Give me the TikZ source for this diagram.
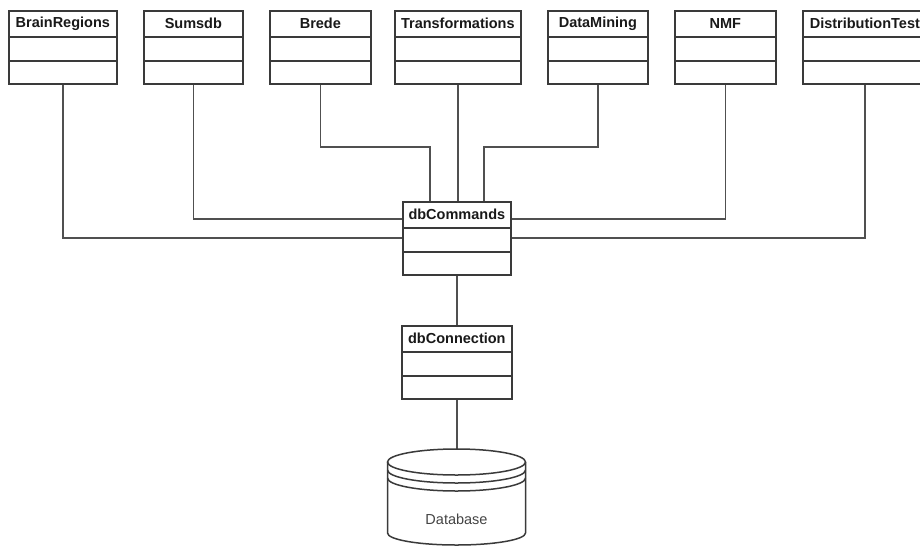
\documentclass[tikz,border=0pt]{standalone}
\usepackage{fontspec}
\setmainfont{Liberation Sans}
\usetikzlibrary{calc}
\definecolor{boxline}{HTML}{3A3A3A}
\definecolor{conn}{HTML}{505050}
\definecolor{dbtext}{HTML}{444444}
\tikzset{
  clsbox/.style={draw=boxline, line width=1.7pt, fill=white, minimum height=73pt, inner sep=0pt, anchor=north west, rectangle},
  hdr/.style={font=\fontsize{14.5}{17}\selectfont\bfseries, text=black!90, inner sep=0pt, anchor=center},
  sep/.style={draw=boxline, line width=1.7pt},
  wire/.style={draw=conn, line width=1.6pt},
  cyl/.style={draw=boxline, line width=1.5pt},
}
\newcommand{\umlclass}[5]{% name, x, y, width, title
  \node[clsbox, minimum width=#4pt] (#1) at (#2pt,-#3pt) {};
  \node[hdr] (#1-title) at ($(#1.north)+(0,-13.5pt)$) {#5};
  \draw[sep] ($(#1.north west)+(0,-27pt)$) -- ($(#1.north east)+(0,-27pt)$);
  \draw[sep] ($(#1.north west)+(0,-51pt)$) -- ($(#1.north east)+(0,-51pt)$);
}
\begin{document}
\begin{tikzpicture}[x=1pt,y=1pt]
\useasboundingbox (0,0) rectangle (920,-546);
\umlclass{br}{8}{10}{108}{BrainRegions}
\umlclass{su}{143}{10}{99}{Sumsdb}
\umlclass{bd}{269}{10}{101}{Brede}
\umlclass{tr}{394}{10}{126}{Transformations}
\umlclass{dm}{547}{10}{100}{DataMining}
\umlclass{nm}{674}{10}{101}{NMF}
\umlclass{dt}{802}{10}{124}{DistributionTest}
\umlclass{dbc}{402}{201}{108}{dbCommands}
\umlclass{dbn}{401}{325}{110}{dbConnection}

% wires
\draw[wire] (bd.south) -- ++(0,-62) -| ($(dbc.north)+(-27,0)$);
\draw[wire] (dm.south) -- ++(0,-62) -| ($(dbc.north)+(27,0)$);
\draw[wire] (tr.south) -- (tr.south |- dbc.north);
\draw[wire] (su.south) |- ($(dbc.north west)+(0,-18)$);
\draw[wire] (nm.south) |- ($(dbc.north east)+(0,-18)$);
\draw[wire] (br.south) |- ($(dbc.north west)+(0,-37)$);
\draw[wire] (dt.south) |- ($(dbc.north east)+(0,-37)$);
\draw[wire] (dbc.south) -- (dbc.south |- dbn.north);

% database cylinder
\coordinate (dbtop) at ($(dbn.south)+(0,-50)$);
\draw[wire] (dbn.south) -- (dbtop);
\draw[cyl] (456.5,-462) ellipse [x radius=69, y radius=13];
\draw[cyl] (387.5,-470) arc[start angle=180, end angle=360, x radius=69, y radius=13];
\draw[cyl] (387.5,-478) arc[start angle=180, end angle=360, x radius=69, y radius=13];
\draw[cyl] (387.5,-462) -- (387.5,-533) arc[start angle=180, end angle=360, x radius=69, y radius=12] -- (525.5,-462);
\node[font=\fontsize{14.5}{17}\selectfont, text=dbtext, inner sep=0pt] (db) at (456.5,-519) {Database};
\end{tikzpicture}
\end{document}
